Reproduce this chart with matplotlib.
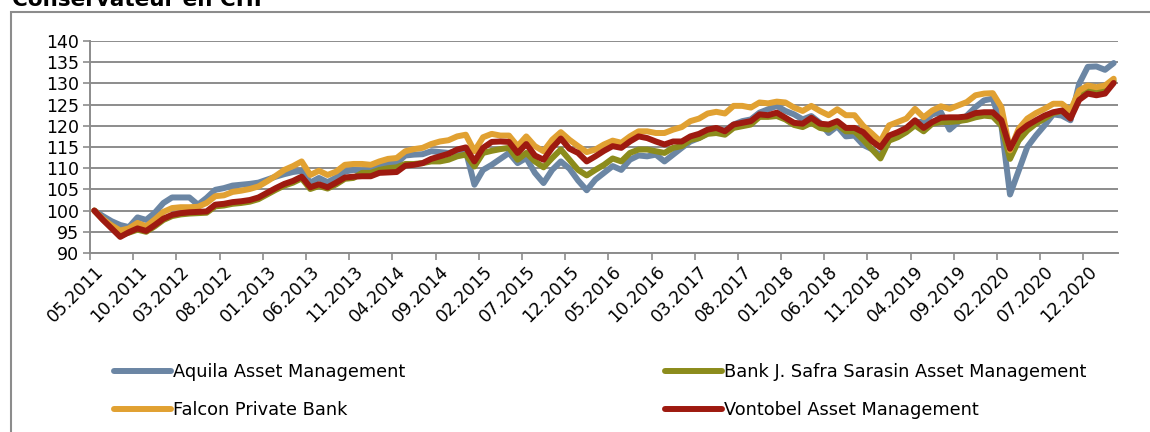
import numpy as np
import pandas as pd
import matplotlib
matplotlib.use("Agg")
import matplotlib.pyplot as plt
from matplotlib.patches import Rectangle

# monthly categories 05.2011 .. 03.2021
months = pd.date_range("2011-05-01", periods=119, freq="MS").strftime("%m.%Y").tolist()

aquila = [
    100.0, 98.7, 97.5, 96.6, 96.1, 98.4, 97.8, 99.5, 101.8, 103.1,
    103.1, 103.1, 101.4, 103.0, 104.9, 105.3, 105.9, 106.1, 106.3, 106.6,
    107.3, 108.0, 108.6, 109.1, 109.4, 106.6, 107.7, 106.7, 107.8, 109.2,
    109.6, 109.4, 109.6, 110.4, 111.0, 111.2, 113.0, 113.2, 113.3, 114.0,
    113.8, 113.6, 114.0, 114.1, 106.1, 109.6, 110.8, 112.2, 113.6, 111.2,
    112.4, 108.9, 106.5, 109.6, 111.6, 109.9, 107.1, 104.8, 107.3, 108.9,
    110.5, 109.6, 112.0, 113.0, 112.8, 113.2, 111.6, 113.2, 114.8, 116.3,
    117.1, 118.3, 119.1, 118.9, 120.3, 121.1, 121.5, 123.1, 123.9, 124.7,
    123.5, 122.7, 121.5, 122.3, 120.7, 118.3, 119.9, 117.5, 117.7, 115.5,
    114.5, 113.0, 116.9, 117.7, 118.9, 120.9, 120.9, 122.7, 123.2, 119.1,
    120.9, 122.4, 124.4, 126.0, 126.4, 120.1, 103.8, 109.4, 115.0, 117.7,
    120.1, 122.7, 122.4, 121.3, 129.9, 133.9, 134.0, 133.2, 134.8,
]

safra = [
    100.0, 97.9, 96.0, 94.3, 94.8, 95.5, 95.0, 96.3, 97.8, 98.7,
    99.1, 99.3, 99.4, 99.5, 101.0, 101.2, 101.6, 101.8, 102.1, 102.7,
    103.8, 104.9, 105.9, 106.6, 107.6, 105.1, 105.8, 105.2, 106.2, 107.5,
    107.7, 108.9, 108.9, 109.6, 110.0, 110.2, 111.0, 111.0, 111.2, 111.6,
    111.6, 112.0, 112.8, 113.2, 110.4, 113.6, 114.1, 114.5, 114.8, 112.0,
    113.6, 111.6, 110.2, 112.4, 114.4, 112.0, 109.6, 108.3, 109.6, 110.8,
    112.3, 111.6, 113.6, 114.4, 114.4, 114.0, 113.6, 114.8, 115.2, 116.7,
    117.1, 118.1, 118.3, 117.9, 119.5, 119.9, 120.3, 122.1, 122.1, 122.3,
    121.5, 120.2, 119.7, 120.7, 119.5, 119.1, 120.3, 118.7, 118.7, 116.7,
    114.5, 112.3, 116.5, 117.3, 118.5, 120.1, 118.7, 120.5, 120.9, 120.9,
    121.1, 121.4, 122.0, 122.4, 122.2, 120.1, 112.2, 116.5, 118.9, 120.5,
    121.7, 123.0, 123.5, 122.2, 127.2, 128.3, 128.3, 128.5, 130.6,
]

falcon = [
    100.0, 98.0, 96.5, 95.3, 95.8, 97.1, 96.3, 97.9, 99.7, 100.6,
    100.8, 100.8, 100.9, 101.8, 103.4, 103.6, 104.4, 104.7, 105.1, 105.7,
    106.9, 108.2, 109.6, 110.5, 111.6, 108.4, 109.4, 108.4, 109.2, 110.8,
    111.0, 111.0, 110.8, 111.6, 112.2, 112.4, 114.0, 114.5, 114.8, 115.7,
    116.3, 116.6, 117.5, 117.9, 114.0, 117.3, 118.1, 117.7, 117.7, 115.2,
    117.5, 115.2, 114.0, 116.7, 118.5, 116.7, 115.2, 113.8, 114.4, 115.6,
    116.5, 116.0, 117.5, 118.7, 118.7, 118.3, 118.3, 119.1, 119.7, 121.1,
    121.7, 122.9, 123.3, 122.9, 124.7, 124.7, 124.3, 125.5, 125.3, 125.7,
    125.5, 124.3, 123.5, 124.7, 123.5, 122.5, 123.9, 122.5, 122.5, 120.0,
    118.2, 116.3, 120.1, 120.9, 121.7, 124.0, 122.0, 123.6, 124.6, 124.0,
    124.8, 125.6, 127.2, 127.6, 127.7, 124.4, 114.2, 119.3, 121.7, 123.0,
    124.0, 125.2, 125.2, 123.6, 128.3, 129.5, 129.1, 129.5, 131.1,
]

vontobel = [
    100.0, 97.8, 95.8, 93.8, 94.9, 95.8, 95.2, 96.6, 98.1, 99.0,
    99.4, 99.6, 99.7, 99.8, 101.4, 101.6, 102.0, 102.2, 102.5, 103.1,
    104.2, 105.3, 106.3, 107.0, 108.0, 105.5, 106.2, 105.5, 106.6, 107.8,
    108.0, 108.1, 108.1, 108.9, 109.0, 109.1, 110.6, 110.8, 111.2, 112.2,
    112.8, 113.4, 114.4, 114.9, 111.6, 114.8, 116.2, 116.3, 116.2, 113.6,
    115.7, 113.0, 112.0, 114.8, 117.0, 114.6, 113.6, 111.6, 112.8, 114.1,
    115.2, 114.8, 116.3, 117.5, 117.1, 116.3, 115.6, 116.3, 116.3, 117.5,
    118.1, 119.1, 119.5, 118.7, 120.3, 120.7, 121.1, 122.7, 122.5, 123.1,
    121.9, 120.7, 120.5, 121.9, 120.5, 120.3, 121.1, 119.5, 119.5, 118.5,
    116.4, 114.9, 117.7, 118.5, 119.5, 121.3, 119.5, 120.9, 121.9, 122.0,
    122.0, 122.2, 123.0, 123.2, 123.2, 121.3, 114.6, 118.5, 120.1, 121.3,
    122.4, 123.2, 123.6, 121.7, 126.1, 127.6, 127.2, 127.6, 130.1,
]

names = ["Aquila Asset Management", "Bank J. Safra Sarasin Asset Management",
         "Falcon Private Bank", "Vontobel Asset Management"]
colors = ["#6B86A4", "#8C8C1C", "#E1A132", "#9E1A10"]
series = [aquila, safra, falcon, vontobel]

W, H = 1150, 432
gray = "#8c8c8c"

fig = plt.figure(figsize=(W / 100, H / 100), dpi=100)
ax = fig.add_axes([90 / W, 1 - 253 / H, (1118 - 90) / W, (253 - 41) / H])

x = np.arange(len(months))
lines = []
for vals, c, n in zip(series, colors, names):
    ln, = ax.plot(x, vals, color=c, lw=4.3, label=n,
                  solid_joinstyle="round", solid_capstyle="round")
    lines.append(ln)

ax.set_xlim(-0.5, len(months) - 0.5)
ax.set_ylim(90, 140)
ax.set_yticks(np.arange(90, 141, 5))
ax.yaxis.grid(True, color=gray, lw=1.4)
ax.set_axisbelow(True)

for s in ["top", "right"]:
    ax.spines[s].set_visible(False)
for s in ["left", "bottom"]:
    ax.spines[s].set_color(gray)
    ax.spines[s].set_linewidth(1.4)

# tick marks at category boundaries, labels at category centres
ax.set_xticks(np.arange(-0.5, len(months) - 1, 5))
ax.set_xticklabels([])
ax.set_xticks(np.arange(0, len(months), 5), minor=True)
ax.set_xticklabels(months[::5], minor=True, rotation=45, ha="right",
                   va="top", rotation_mode="anchor")
ax.tick_params(axis="x", which="major", length=5, color=gray, width=1.2)
ax.tick_params(axis="x", which="minor", length=0, pad=7, labelsize=12.5)
ax.tick_params(axis="y", length=5, color=gray, width=1.2, labelsize=12.5, pad=3)

order = [0, 2, 1, 3]
fig.legend([lines[i] for i in order], [names[i] for i in order], ncol=2,
           loc="upper left", bbox_to_anchor=(114 / W, 1 - 363 / H),
           frameon=False, fontsize=12.8, handlelength=3.2, handletextpad=0.12,
           columnspacing=14.6, labelspacing=1.15, borderpad=0, borderaxespad=0)

fig.text(12 / W, 1 - 6 / H, "Conservateur en CHF", fontsize=15.5,
         fontweight="bold", va="baseline", ha="left")

fig.add_artist(Rectangle((11 / W, -0.1), 1.2, 1 - 12 / H + 0.1,
                         transform=fig.transFigure, fill=False,
                         edgecolor=gray, lw=1.5, clip_on=False))

fig.savefig("out.png", dpi=100)
plt.close(fig)
